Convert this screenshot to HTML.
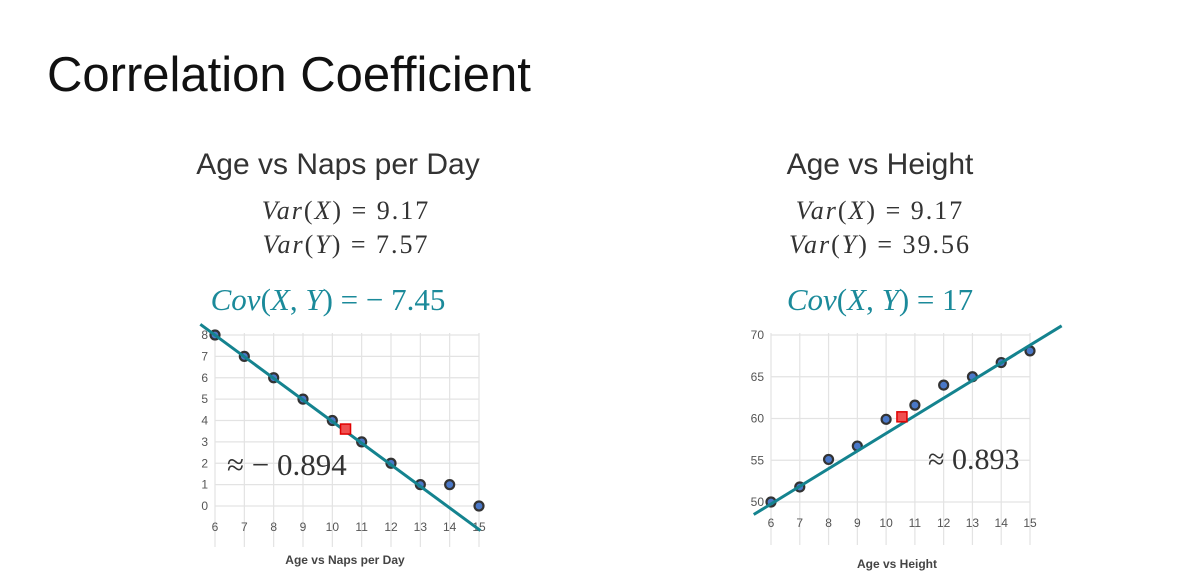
<!DOCTYPE html>
<html><head><meta charset="utf-8">
<style>
body{margin:0;width:1188px;height:588px;background:#fff;overflow:hidden;font-family:"Liberation Sans",sans-serif;}
svg{position:absolute;left:0;top:0}
</style></head>
<body>
<svg id="svg" width="1188" height="588" viewBox="0 0 1188 588" xmlns="http://www.w3.org/2000/svg">
<text x="47" y="91" font-size="49" fill="#111" font-family="Liberation Sans, sans-serif">Correlation Coefficient</text>
<g>
<text x="338" y="174" font-size="30" fill="#333" text-anchor="middle">Age vs Naps per Day</text>
<text x="346" y="219" font-size="26" letter-spacing="2" fill="#333" text-anchor="middle" font-family="Liberation Serif, serif"><tspan font-style="italic">Var</tspan>(<tspan font-style="italic">X</tspan>) = 9.17</text>
<text x="346" y="253" font-size="26" letter-spacing="2" fill="#333" text-anchor="middle" font-family="Liberation Serif, serif"><tspan font-style="italic">Var</tspan>(<tspan font-style="italic">Y</tspan>) = 7.57</text>
<text x="328" y="310" font-size="31" fill="#1b8a9a" text-anchor="middle" font-family="Liberation Serif, serif"><tspan font-style="italic">Cov</tspan>(<tspan font-style="italic">X</tspan>, <tspan font-style="italic">Y</tspan>) = − 7.45</text>
</g>
<g>
<text x="880" y="174" font-size="30" fill="#333" text-anchor="middle">Age vs Height</text>
<text x="880" y="219" font-size="26" letter-spacing="2" fill="#333" text-anchor="middle" font-family="Liberation Serif, serif"><tspan font-style="italic">Var</tspan>(<tspan font-style="italic">X</tspan>) = 9.17</text>
<text x="880" y="253" font-size="26" letter-spacing="2" fill="#333" text-anchor="middle" font-family="Liberation Serif, serif"><tspan font-style="italic">Var</tspan>(<tspan font-style="italic">Y</tspan>) = 39.56</text>
<text x="880" y="310" font-size="31" fill="#1b8a9a" text-anchor="middle" font-family="Liberation Serif, serif"><tspan font-style="italic">Cov</tspan>(<tspan font-style="italic">X</tspan>, <tspan font-style="italic">Y</tspan>) = 17</text>
</g>
<g id="left"></g>
<g id="right"></g>
</svg>
<script>
const ages = [6,7,8,9,10,11,12,13,14,15];
const naps = [8,7,6,5,4,3,2,1,1,0];
const heights = [50,51.8,55.1,56.7,59.9,61.6,64,65,66.7,68.1];
const napTicks = [0,1,2,3,4,5,6,7,8];
const heightTicks = [50,55,60,65,70];
const napMean = [10.45,3.6];
const heightMean = [10.55,60.2];
const napFit = [[5.5,8.5],[15.05,-1.15]];
const heightFit = [[5.4,48.5],[16.1,71.1]];
const NS='http://www.w3.org/2000/svg';
function mk(g,tag,attrs){const e=document.createElementNS(NS,tag);for(const k in attrs)e.setAttribute(k,attrs[k]);g.appendChild(e);return e;}
function chart(gid,cfg){
  const g=document.getElementById(gid);
  const sx=v=>cfg.x0+(v-ages[0])*(cfg.x1-cfg.x0)/(ages[ages.length-1]-ages[0]);
  const ymin=cfg.yt[0],ymax=cfg.yt[cfg.yt.length-1];
  const sy=v=>cfg.y0-(v-ymin)*(cfg.y0-cfg.y1)/(ymax-ymin);
  cfg.yt.forEach(t=>{
    const l=mk(g,'line',{x1:sx(ages[0]),x2:sx(ages[ages.length-1]),y1:sy(t),y2:sy(t),stroke:'#e3e3e3','stroke-width':1.2});
    
    
    const tx=mk(g,'text',{x:cfg.ylx,y:sy(t)+4,'font-size':12,fill:'#555','text-anchor':'end'});
    tx.textContent=t;
    
    
  });
  ages.forEach(a=>{
    const l=mk(g,'line',{x1:sx(a),x2:sx(a),y1:cfg.y1-2,y2:cfg.gb,stroke:'#e3e3e3','stroke-width':1.2});
    
    
    const tx=mk(g,'text',{x:sx(a),y:cfg.xly,'font-size':12,fill:'#555','text-anchor':'middle'});
    tx.textContent=a;
    
    
  });
  cfg.ys.forEach((v,i)=>{
    const c=mk(g,'circle',{cx:sx(ages[i]),cy:sy(v),r:4.5,fill:'#4a78c8',stroke:'#333','stroke-width':2.2});
    
    
  });
  const f=cfg.fit;
  const ln=mk(g,'line',{x1:sx(f[0][0]),y1:sy(f[0][1]),x2:sx(f[1][0]),y2:sy(f[1][1]),stroke:'#14838f','stroke-width':3});
  
  
  const r=mk(g,'rect',{x:sx(cfg.mean[0])-5,y:sy(cfg.mean[1])-5,width:10,height:10,fill:'#f05050',stroke:'#e00000','stroke-width':1.5});
  
  
  const lt=mk(g,'text',{x:cfg.lbl[0],y:cfg.lbl[1],'font-size':cfg.lfs,fill:'#333','font-family':'Liberation Serif, serif'});
  lt.textContent=cfg.label;
  
  
  const xt=mk(g,'text',{x:cfg.tx,y:cfg.ty,'font-size':12,'font-weight':'bold',fill:'#444','text-anchor':'middle'});
  xt.textContent=cfg.title;
  
  
}
chart('left',{x0:215,x1:479,y0:506,y1:335,yt:napTicks,ys:naps,fit:napFit,mean:napMean,ylx:208,xly:531,gb:547,lbl:[227,475],lfs:31,label:'≈ − 0.894',tx:345,ty:564,title:'Age vs Naps per Day'});
chart('right',{x0:771,x1:1030,y0:502,y1:335,yt:heightTicks,ys:heights,fit:heightFit,mean:heightMean,ylx:764,xly:527,gb:545,lbl:[928,469],lfs:30,label:'≈ 0.893',tx:897,ty:568,title:'Age vs Height'});
</script>
</body></html>
